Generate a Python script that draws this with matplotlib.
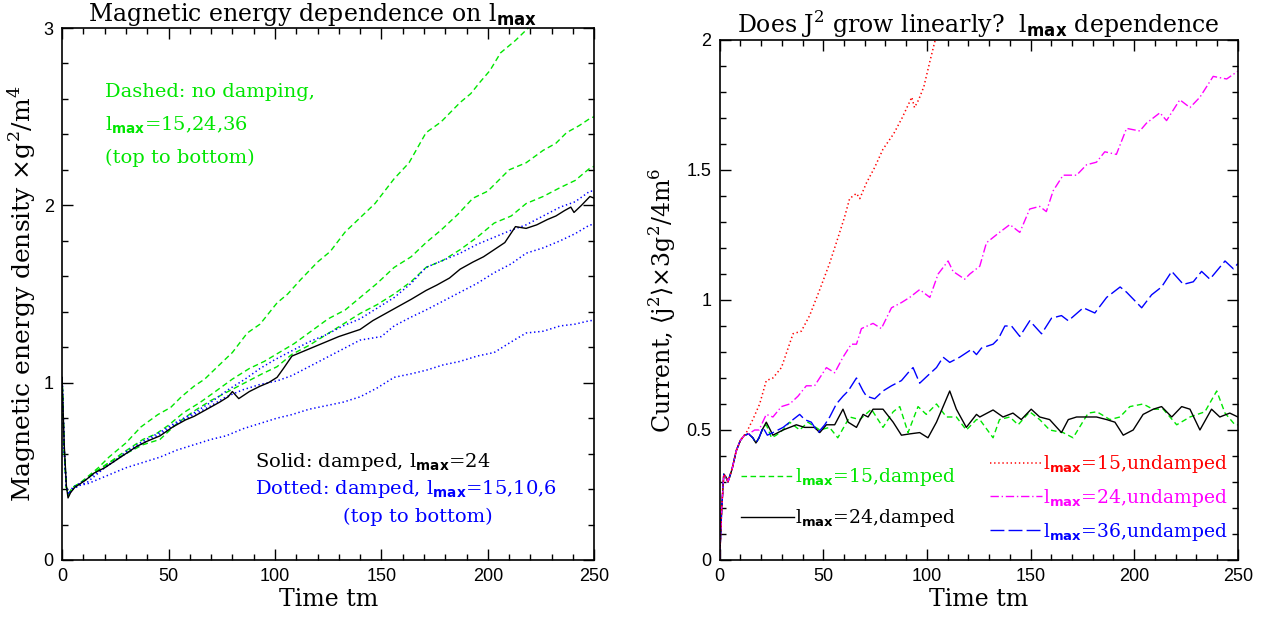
import numpy as np
import matplotlib
matplotlib.use("Agg")
import matplotlib.pyplot as plt
from matplotlib.lines import Line2D
from matplotlib.ticker import MultipleLocator

plt.rcParams['font.family'] = ['DejaVu Serif', 'DejaVu Sans']
plt.rcParams['mathtext.fontset'] = 'custom'
plt.rcParams['mathtext.rm'] = 'DejaVu Serif'
plt.rcParams['mathtext.sf'] = 'DejaVu Sans:bold'

# ---- left panel: magnetic energy density ----
t_g15 = [0, 1, 2, 3, 5, 8, 12, 17, 22, 30, 37, 45, 51, 56, 62, 67, 73, 80, 87, 93, 101, 106, 112,
         120, 126, 133, 140, 147, 156, 163, 171, 178, 187, 192, 196, 201, 206, 213, 219, 222]
e_g15 = [1.03, 0.62, 0.41, 0.37, 0.41, 0.43, 0.47, 0.52, 0.58, 0.66, 0.75, 0.82, 0.86, 0.92, 0.98,
         1.02, 1.09, 1.17, 1.28, 1.33, 1.45, 1.50, 1.58, 1.68, 1.74, 1.85, 1.93, 2.01, 2.15, 2.24,
         2.41, 2.47, 2.58, 2.63, 2.69, 2.76, 2.86, 2.93, 3.0, 3.04]

t_g24 = [0, 1, 2, 3, 5, 8, 12, 16, 20, 28, 38, 44, 50, 57, 65, 72, 80, 88, 95, 102, 109, 117, 125,
         133, 140, 148, 156, 164, 171, 178, 186, 193, 200, 210, 218, 226, 232, 237, 243, 248, 250]
e_g24 = [1.03, 0.62, 0.41, 0.37, 0.41, 0.43, 0.46, 0.50, 0.53, 0.60, 0.68, 0.71, 0.76, 0.83, 0.89,
         0.95, 1.02, 1.08, 1.12, 1.17, 1.22, 1.29, 1.36, 1.41, 1.48, 1.56, 1.65, 1.71, 1.79, 1.86,
         1.95, 2.04, 2.08, 2.20, 2.24, 2.31, 2.35, 2.41, 2.45, 2.49, 2.50]

t_g36 = [0, 1, 2, 3, 5, 8, 12, 16, 22, 30, 38, 46, 54, 62, 70, 78, 86, 94, 101, 108, 116, 124, 132,
         140, 148, 156, 164, 171, 179, 187, 195, 203, 211, 218, 226, 234, 241, 248, 250]
e_g36 = [1.03, 0.62, 0.41, 0.37, 0.41, 0.43, 0.46, 0.50, 0.55, 0.60, 0.65, 0.68, 0.77, 0.84, 0.90,
         0.95, 1.00, 1.05, 1.09, 1.16, 1.21, 1.27, 1.33, 1.39, 1.44, 1.50, 1.57, 1.65, 1.69, 1.75,
         1.82, 1.90, 1.94, 2.01, 2.05, 2.10, 2.14, 2.21, 2.22]

t_b15 = [0, 1, 2, 3, 5, 8, 12, 16, 20, 25, 30, 38, 46, 54, 62, 70, 78, 86, 93, 100, 108, 116, 124,
         132, 140, 148, 156, 164, 171, 179, 187, 195, 203, 211, 218, 226, 234, 241, 248, 250]
e_b15 = [1.03, 0.62, 0.41, 0.37, 0.41, 0.43, 0.46, 0.49, 0.52, 0.56, 0.61, 0.67, 0.72, 0.78, 0.83,
         0.89, 0.96, 1.02, 1.08, 1.13, 1.18, 1.23, 1.27, 1.32, 1.36, 1.42, 1.48, 1.56, 1.65, 1.69,
         1.73, 1.78, 1.82, 1.86, 1.89, 1.94, 1.99, 2.02, 2.08, 2.08]

t_k24 = [0, 1, 2, 2.8, 4, 6, 8.5, 11, 15, 20, 25, 30, 35, 40, 46, 52, 58, 62, 68, 74, 78, 80, 83,
         88, 93, 97, 101, 104, 108, 112, 118, 124, 130, 135, 140, 146, 152, 158, 164, 171, 176, 182,
         187, 193, 198, 203, 208, 213, 218, 223, 228, 232, 236, 239, 240.5, 244, 248, 250]
e_k24 = [1.03, 0.65, 0.42, 0.35, 0.38, 0.41, 0.43, 0.45, 0.49, 0.52, 0.56, 0.60, 0.64, 0.67, 0.70,
         0.75, 0.79, 0.81, 0.85, 0.89, 0.92, 0.95, 0.91, 0.95, 0.98, 1.00, 1.03, 1.08, 1.15, 1.17,
         1.20, 1.23, 1.26, 1.28, 1.30, 1.35, 1.39, 1.43, 1.47, 1.52, 1.55, 1.59, 1.64, 1.68, 1.71,
         1.75, 1.79, 1.88, 1.87, 1.89, 1.92, 1.94, 1.97, 1.99, 1.96, 2.00, 2.05, 2.04]

t_b10 = [0, 1, 2, 3, 5, 8, 12, 16, 22, 30, 38, 46, 54, 62, 70, 77, 85, 93, 101, 108, 116, 124, 132,
         140, 145, 150, 156, 164, 171, 179, 187, 195, 203, 211, 218, 226, 234, 241, 248, 250]
e_b10 = [1.03, 0.62, 0.41, 0.37, 0.40, 0.42, 0.44, 0.48, 0.54, 0.60, 0.66, 0.71, 0.77, 0.82, 0.87,
         0.92, 0.96, 0.99, 1.01, 1.04, 1.09, 1.14, 1.19, 1.24, 1.25, 1.26, 1.32, 1.37, 1.41, 1.46,
         1.51, 1.56, 1.62, 1.67, 1.73, 1.76, 1.80, 1.84, 1.89, 1.89]

t_b6 = [0, 1, 2, 3, 5, 8, 12, 16, 22, 30, 38, 46, 54, 62, 70, 77, 85, 93, 101, 108, 116, 124, 132,
        140, 148, 156, 164, 171, 179, 187, 195, 203, 211, 218, 226, 234, 241, 248, 250]
e_b6 = [1.03, 0.62, 0.41, 0.37, 0.40, 0.42, 0.43, 0.45, 0.48, 0.52, 0.55, 0.58, 0.62, 0.65, 0.68,
        0.70, 0.74, 0.77, 0.80, 0.82, 0.85, 0.87, 0.89, 0.92, 0.97, 1.03, 1.05, 1.07, 1.10, 1.12,
        1.15, 1.17, 1.23, 1.28, 1.29, 1.32, 1.33, 1.35, 1.35]

# ---- right panel: current <j^2> ----
t_r15 = [0, 1, 2, 3, 4, 6, 8, 10, 12.9, 16, 19.3, 22.5, 25.7, 29.8, 35.4, 39.4, 43.4, 48.3, 53,
         57.1, 60.3, 62.7, 66, 67.6, 70.8, 74.8, 78.8, 84, 88, 92.7, 94, 96, 98.5, 101.5, 104]
j_r15 = [0, 0.2, 0.33, 0.32, 0.30, 0.35, 0.42, 0.46, 0.49, 0.54, 0.60, 0.69, 0.70, 0.74, 0.87,
         0.88, 0.94, 1.04, 1.14, 1.24, 1.32, 1.39, 1.41, 1.39, 1.45, 1.51, 1.58, 1.64, 1.70, 1.78,
         1.74, 1.77, 1.82, 1.92, 2.0]

t_m24 = [0, 1, 2, 3, 4, 6, 8, 10, 12, 14, 16.9, 19, 22.5, 25.7, 29.8, 33.8, 37.8, 41.8, 45.8, 51.5,
         55.5, 59.5, 63.5, 66, 68.4, 74, 78, 82.9, 87.7, 91.7, 96.5, 101.4, 105.4, 110.2, 112.6,
         118.2, 120.7, 125.5, 128.7, 135, 140, 144.8, 149.6, 154.4, 157.6, 160.9, 165.7, 172.2, 177,
         181.8, 185.8, 191.4, 196.3, 202.7, 205.9, 212.4, 215.6, 222, 226.9, 231.7, 238.1, 244.6, 250]
j_m24 = [0, 0.2, 0.33, 0.32, 0.30, 0.35, 0.42, 0.46, 0.48, 0.485, 0.50, 0.50, 0.56, 0.55, 0.59,
         0.60, 0.63, 0.67, 0.67, 0.74, 0.72, 0.78, 0.83, 0.83, 0.89, 0.91, 0.89, 0.97, 0.99, 1.01,
         1.04, 1.01, 1.10, 1.15, 1.11, 1.08, 1.10, 1.13, 1.22, 1.26, 1.29, 1.26, 1.35, 1.36, 1.34,
         1.42, 1.48, 1.48, 1.52, 1.53, 1.57, 1.56, 1.66, 1.65, 1.68, 1.72, 1.69, 1.77, 1.74, 1.78,
         1.86, 1.85, 1.88]

t_u36 = [0, 1, 2, 3, 4, 6, 8, 10, 12, 14, 16, 17.5, 19, 20.9, 23, 25.7, 30.6, 35.4, 38.6, 41, 44.2,
         47.5, 50.7, 53.1, 56.3, 59.5, 62, 66, 69.2, 70.8, 74.8, 78.8, 82.9, 87.7, 90.9, 93.3, 96.5,
         100.5, 104.6, 107.8, 111, 115.8, 121.5, 123.9, 126.3, 131.9, 134.4, 137.6, 140.8, 144.8,
         149.6, 155.3, 160.1, 164.9, 168.2, 175.4, 181, 186.7, 193.2, 196.3, 203.6, 208.4, 213.2,
         218.1, 223.7, 228.5, 232.5, 236.5, 243.8, 247.8, 250]
j_u36 = [0, 0.2, 0.33, 0.32, 0.30, 0.35, 0.42, 0.46, 0.48, 0.485, 0.47, 0.45, 0.47, 0.51, 0.48,
         0.49, 0.51, 0.54, 0.56, 0.54, 0.53, 0.49, 0.52, 0.55, 0.60, 0.63, 0.65, 0.70, 0.65, 0.63,
         0.62, 0.65, 0.67, 0.69, 0.72, 0.74, 0.68, 0.71, 0.74, 0.78, 0.76, 0.78, 0.81, 0.79, 0.815,
         0.83, 0.85, 0.90, 0.90, 0.86, 0.92, 0.87, 0.93, 0.94, 0.92, 0.97, 0.95, 1.01, 1.05, 1.03,
         0.97, 1.02, 1.05, 1.11, 1.06, 1.07, 1.11, 1.08, 1.15, 1.12, 1.14]

t_k24d = [0, 1, 2, 3, 4, 6, 8, 10, 12, 14, 16, 17.5, 19, 20.5, 22.5, 25.7, 30.6, 33.8, 37, 41,
          45.8, 48.3, 51.5, 55.5, 59.5, 62, 66, 69.2, 71.6, 74, 78.8, 83.7, 87.7, 91.7, 96.5, 100.5,
          104.6, 107.8, 111, 114.2, 119, 123.9, 125.5, 131.9, 136.7, 141.5, 145.5, 150.3, 154.4,
          159.2, 164.9, 168.2, 172.2, 177.8, 181.8, 186.7, 190.7, 194.7, 199.5, 204.3, 209.2, 213.2,
          218.1, 222.9, 226.9, 231.7, 237.3, 241.3, 246.1, 250]
j_k24d = [0, 0.2, 0.33, 0.32, 0.30, 0.35, 0.42, 0.46, 0.48, 0.485, 0.47, 0.45, 0.47, 0.50, 0.53,
          0.48, 0.50, 0.51, 0.52, 0.51, 0.51, 0.49, 0.52, 0.52, 0.58, 0.53, 0.51, 0.56, 0.55, 0.58,
          0.58, 0.53, 0.48, 0.485, 0.49, 0.47, 0.53, 0.59, 0.65, 0.58, 0.51, 0.56, 0.55, 0.577,
          0.55, 0.565, 0.54, 0.58, 0.55, 0.54, 0.49, 0.54, 0.55, 0.55, 0.55, 0.54, 0.53, 0.48, 0.50,
          0.56, 0.58, 0.59, 0.55, 0.59, 0.58, 0.50, 0.58, 0.55, 0.565, 0.55]

t_g15d = [0, 1, 2, 3, 4, 6, 8, 10, 12, 14, 16, 17.5, 19, 20.5, 22.5, 25, 27.3, 30.5, 33.8, 38.6,
          42.6, 48.3, 53, 57, 62.7, 67.6, 73.2, 78.8, 83.7, 86.9, 90.9, 95.7, 99.7, 104.6, 109.4,
          114.2, 119, 123.9, 125.5, 131.9, 135, 140, 144, 149.6, 154.4, 159.2, 165.7, 170.5, 177.8,
          182, 188.3, 193.1, 197.9, 204.3, 209, 214, 220.5, 226.9, 234.1, 239.8, 243.8, 248.6, 250]
j_g15d = [0, 0.2, 0.33, 0.32, 0.30, 0.35, 0.42, 0.46, 0.48, 0.485, 0.47, 0.45, 0.47, 0.50, 0.52,
          0.47, 0.48, 0.50, 0.53, 0.50, 0.53, 0.50, 0.51, 0.47, 0.55, 0.54, 0.58, 0.51, 0.57, 0.59,
          0.49, 0.59, 0.56, 0.60, 0.55, 0.55, 0.50, 0.54, 0.54, 0.47, 0.54, 0.55, 0.52, 0.57, 0.54,
          0.50, 0.49, 0.47, 0.565, 0.57, 0.54, 0.55, 0.59, 0.60, 0.58, 0.58, 0.52, 0.55, 0.57, 0.65,
          0.565, 0.52, 0.52]

GREEN = '#00e600'
BLUE = '#0000ff'
RED = '#ff0000'
MAGENTA = '#ff00ff'
DASH = (0, (4, 2.5))
DOT = (0, (0.9, 1.8))
DASHDOT = (0, (6, 2, 1, 2))
LONGDASH = (0, (10, 3))

fig = plt.figure(figsize=(12.67, 6.17), dpi=100)
ax1 = fig.add_axes([0.049, 0.0924, 0.420, 0.8622])
ax2 = fig.add_axes([0.568, 0.0924, 0.409, 0.8428])


def style_axes(ax, ymax, ymajor, yminor):
    ax.set_xlim(0, 250)
    ax.set_ylim(0, ymax)
    ax.xaxis.set_major_locator(MultipleLocator(50))
    ax.xaxis.set_minor_locator(MultipleLocator(10))
    ax.yaxis.set_major_locator(MultipleLocator(ymajor))
    ax.yaxis.set_minor_locator(MultipleLocator(yminor))
    ax.yaxis.set_major_formatter(matplotlib.ticker.FormatStrFormatter('%g'))
    ax.tick_params(which='both', direction='in', top=True, right=True, width=1.0,
                   labelsize=13, pad=6)
    ax.tick_params(which='major', length=8)
    ax.tick_params(which='minor', length=4)
    for lab in ax.get_xticklabels() + ax.get_yticklabels():
        lab.set_family('Liberation Sans')
    for sp in ax.spines.values():
        sp.set_linewidth(1.2)
    ax.set_xlabel('Time tm', fontsize=17, labelpad=2)


# left panel
ax1.plot(t_g15, e_g15, color=GREEN, lw=1.0, ls=DASH)
ax1.plot(t_g24, e_g24, color=GREEN, lw=1.0, ls=DASH)
ax1.plot(t_g36, e_g36, color=GREEN, lw=1.0, ls=DASH)
ax1.plot(t_b15, e_b15, color=BLUE, lw=1.1, ls=DOT)
ax1.plot(t_b10, e_b10, color=BLUE, lw=1.1, ls=DOT)
ax1.plot(t_b6, e_b6, color=BLUE, lw=1.1, ls=DOT)
ax1.plot(t_k24, e_k24, color='black', lw=1.0)
style_axes(ax1, 3, 1, 0.2)
ax1.set_ylabel('Magnetic energy density ×g$^2$/m$^4$', fontsize=18, labelpad=3)
ax1.set_title('Magnetic energy dependence on l$_{\\mathsf{max}}$', fontsize=17, pad=3, x=0.47)

ax1.text(20, 2.64, 'Dashed: no damping,', color=GREEN, fontsize=14, va='center')
ax1.text(20, 2.45, 'l$_{\\mathsf{max}}$=15,24,36', color=GREEN, fontsize=14, va='center')
ax1.text(20, 2.27, '(top to bottom)', color=GREEN, fontsize=14, va='center')
ax1.text(90.5, 0.55, 'Solid: damped, l$_{\\mathsf{max}}$=24', color='black', fontsize=14, va='center')
ax1.text(90.5, 0.40, 'Dotted: damped, l$_{\\mathsf{max}}$=15,10,6', color=BLUE, fontsize=14, va='center')
ax1.text(132, 0.245, '(top to bottom)', color=BLUE, fontsize=14, va='center')

# right panel
ax2.plot(t_g15d, j_g15d, color=GREEN, lw=1.0, ls=DASH)
ax2.plot(t_k24d, j_k24d, color='black', lw=1.0)
ax2.plot(t_u36, j_u36, color=BLUE, lw=1.0, ls=LONGDASH)
ax2.plot(t_m24, j_m24, color=MAGENTA, lw=1.0, ls=DASHDOT)
ax2.plot(t_r15, j_r15, color=RED, lw=1.1, ls=DOT)
style_axes(ax2, 2, 0.5, 0.1)
ax2.set_ylabel('Current, ⟨j$^2$⟩×3g$^2$/4m$^6$', fontsize=17, labelpad=6)
ax2.set_title('Does J$^2$ grow linearly?  l$_{\\mathsf{max}}$ dependence', fontsize=17, pad=5)

leg_a = [Line2D([], [], color=GREEN, lw=1.0, ls=DASH),
         Line2D([], [], color='black', lw=1.0)]
lab_a = ['l$_{\\mathsf{max}}$=15,damped', 'l$_{\\mathsf{max}}$=24,damped']
leg_b = [Line2D([], [], color=RED, lw=1.1, ls=DOT),
         Line2D([], [], color=MAGENTA, lw=1.0, ls=DASHDOT),
         Line2D([], [], color=BLUE, lw=1.0, ls=LONGDASH)]
lab_b = ['l$_{\\mathsf{max}}$=15,undamped', 'l$_{\\mathsf{max}}$=24,undamped',
         'l$_{\\mathsf{max}}$=36,undamped']

l1 = ax2.legend(leg_a, lab_a, loc='upper left', bbox_to_anchor=(0.042, 0.180), frameon=False,
                fontsize=13.5, handlelength=2.8, handletextpad=0.05, labelspacing=1.0,
                borderpad=0, borderaxespad=0, labelcolor=[GREEN, 'black'])
ax2.add_artist(l1)
ax2.legend(leg_b, lab_b, loc='upper left', bbox_to_anchor=(0.521, 0.205), frameon=False,
           fontsize=13.5, handlelength=2.8, handletextpad=0.05, labelspacing=0.62,
           borderpad=0, borderaxespad=0, labelcolor=[RED, MAGENTA, BLUE])

fig.savefig('out.png', dpi=100)
